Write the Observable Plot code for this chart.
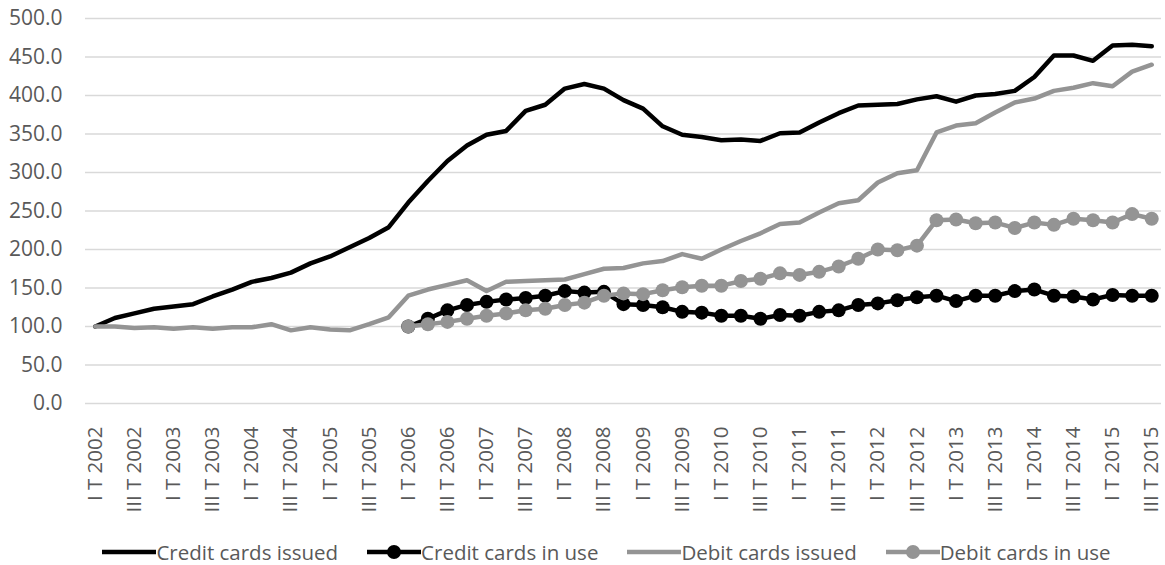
<!DOCTYPE html>
<html><head><meta charset="utf-8">
<script src="https://cdn.jsdelivr.net/npm/d3@7"></script>
<script src="https://cdn.jsdelivr.net/npm/@observablehq/plot@0.6"></script>
<style>
body{margin:0;background:#fff;font-family:"Open Sans",sans-serif;}
#chart{width:1165px;height:565px;position:relative;overflow:hidden;}
#legend{position:absolute;top:538px;left:0;width:1213px;height:28px;font-size:20.5px;color:#595959;
  display:flex;justify-content:center;gap:29px;}
.item{display:flex;align-items:center;height:28px;white-space:nowrap;}
</style></head><body><div id="chart"><div id="plot"></div><div id="legend"></div></div>
<script>
const years = [2002,2003,2004,2005,2006,2007,2008,2009,2010,2011,2012,2013,2014,2015];
const romans = ["I","II","III","IV"];
const quarters = [];
for (const yr of years) for (const r of romans) quarters.push(`${r} T ${yr}`);
quarters.splice(55); // up to III T 2015

const creditIssued = [100,111,117,123,126,129,139,148,158,163,170,182,191,203,215,229,
  261,289,315,335,349,354,380,388,409,415,409,394,383,360,349,346,342,343,341,351,352,365,377,387,
  388,389,395,399,392,400,402,406,424,452,452,445,465,466,464];
const creditInUse = [null,null,null,null,null,null,null,null,null,null,null,null,null,null,null,null,
  100,110,121,128,132,135,137,140,146,144,145,129,128,125,119,118,114,114,110,115,114,119,121,128,
  130,134,138,140,133,140,140,146,148,140,139,135,141,140,140];
const debitIssued = [100,100,98,99,97,99,97,99,99,103,95,99,96,95,103,112,
  140,148,154,160,146,158,159,160,161,168,175,176,182,185,194,188,200,211,221,233,235,248,260,264,
  287,299,303,352,361,364,378,391,396,406,410,416,412,431,440];
const debitInUse = [null,null,null,null,null,null,null,null,null,null,null,null,null,null,null,null,
  100,103,106,110,114,117,121,123,128,131,140,143,142,147,151,153,153,159,162,169,167,171,178,188,
  200,199,205,238,239,234,235,228,235,232,240,238,235,246,240];

const seriesNames = ["Credit cards issued","Credit cards in use","Debit cards issued","Debit cards in use"];
const seriesColors = ["#000000","#000000","#949494","#949494"];
const seriesMarkers = [false,true,false,true];
const seriesValues = [creditIssued, creditInUse, debitIssued, debitInUse];
const yTicks = [0,50,100,150,200,250,300,350,400,450,500];
const xTicks = quarters.filter((d,i)=>i%2===0);

const rows = [];
seriesValues.forEach((vals,s)=>vals.forEach((v,i)=>{ if (v!=null) rows.push({q:quarters[i], v, s}); }));

const marks = [
  Plot.gridY(yTicks, {stroke:"#d9d9d9", strokeOpacity:1, strokeWidth:1.5})
];
seriesNames.forEach((name,s)=>{
  const data = rows.filter(r=>r.s===s);
  marks.push(Plot.line(data, {x:"q", y:"v", stroke:seriesColors[s], strokeWidth:4.5, strokeLinejoin:"round", strokeLinecap:"round"}));
  if (seriesMarkers[s]) marks.push(Plot.dot(data, {x:"q", y:"v", fill:seriesColors[s], r:7}));
});
marks.push(Plot.axisY(yTicks, {tickSize:0, tickPadding:23, tickFormat:d3.format(".1f"), fontSize:21}));
marks.push(Plot.axisX(xTicks, {tickSize:0, tickPadding:23, tickRotate:-90, fontSize:20.5}));

const chart = Plot.plot({
  width:1165, height:525,
  marginLeft:85, marginRight:4, marginTop:18, marginBottom:122,
  style:{fontFamily:"'Open Sans', sans-serif", color:"#595959", background:"#fff"},
  x:{type:"point", domain:quarters, padding:0.5, label:null},
  y:{domain:[0,500], label:null},
  marks
});
document.getElementById("plot").appendChild(chart);

const leg = document.getElementById("legend");
seriesNames.forEach((name,s)=>{
  const div = document.createElement("div");
  div.className = "item";
  const w = 54;
  const svg = d3.create("svg").attr("width", w).attr("height", 28);
  svg.append("line").attr("x1",0).attr("x2",w).attr("y1",14).attr("y2",14)
    .attr("stroke",seriesColors[s]).attr("stroke-width",4.5);
  if (seriesMarkers[s]) svg.append("circle").attr("cx",w/2).attr("cy",14).attr("r",7).attr("fill",seriesColors[s]);
  div.appendChild(svg.node());
  const t = document.createElement("span");
  t.textContent = name;
  div.appendChild(t);
  leg.appendChild(div);
});
</script>
</body></html>
